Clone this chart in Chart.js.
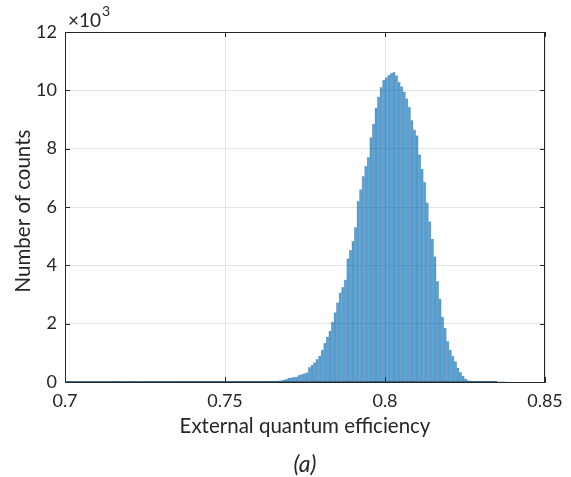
<!DOCTYPE html>
<html>
<head>
<meta charset="utf-8">
<script src="https://cdn.jsdelivr.net/npm/chart.js@4/dist/chart.umd.min.js"></script>
<style>
  html, body { margin: 0; padding: 0; background: #fff; }
  #histo { display: block; }
</style>
</head>
<body>
<canvas id="histo" width="571" height="477"></canvas>
<script>
// histogram bins (EQE)
const binStart = 0.7;
const binWidth = 0.0008;
const counts = [
  0,0,0,0,0,0,0,0,0,0, 0,0,0,0,0,0,0,0,0,0,
  1,0,0,0,0,0,1,0,0,0, 0,0,1,0,0,0,1,0,0,1,
  0,1,0,0,1,0,1,0,1,1, 1,0,2,1,1,2,1,2,3,2,
  3,4,3,5,5,6,7,8,9,10, 12,14,15,17,19,21,23,25,
  28,30,35,35,35,40,45,75,95,135,
  150,160,180,230,260,290,320,500,580,670,
  780,890,1100,1330,1550,1750,2060,2380,2720,3060,
  3250,3500,4230,4520,4830,5300,6200,6600,7050,7400,
  7700,8380,8850,9400,9780,10100,10350,10440,10520,10580,
  10620,10510,10280,10130,9950,9720,9420,8970,8650,8450,
  7800,7300,6850,6150,5500,4900,4300,3450,2850,2230,
  1850,1400,1100,880,700,490,330,210,110,50,
  40,35,30,20,15,10,8,6,5,4,
  3,2,1,1,0,0,0,0,0,0,
  0,0
];
const xTicks = [0.7, 0.75, 0.8, 0.85];
const yTicks = [0, 2000, 4000, 6000, 8000, 10000, 12000];

const binCenters = counts.map((_, i) => binStart + (i + 0.5) * binWidth);

const corEixo = '#262626';
const corGrade = '#e3e3e3';
const fonte = 'Lato, "Open Sans", sans-serif';

// caixa, ticks internos e textos extras
const extras = {
  id: 'extras',
  afterDraw(chart) {
    const { ctx, chartArea: a, scales } = chart;
    ctx.save();
    ctx.strokeStyle = corEixo;
    ctx.lineWidth = 1;
    ctx.beginPath();
    ctx.moveTo(a.left, a.top + 0.5); ctx.lineTo(a.right, a.top + 0.5);
    ctx.moveTo(a.right - 0.5, a.top); ctx.lineTo(a.right - 0.5, a.bottom);
    xTicks.forEach(v => {
      const px = Math.round(scales.x.getPixelForValue(v)) + 0.5;
      ctx.moveTo(px, a.bottom); ctx.lineTo(px, a.bottom - 5);
      ctx.moveTo(px, a.top); ctx.lineTo(px, a.top + 5);
    });
    yTicks.forEach(v => {
      const py = Math.round(scales.y.getPixelForValue(v)) + 0.5;
      ctx.moveTo(a.left, py); ctx.lineTo(a.left + 5, py);
      ctx.moveTo(a.right, py); ctx.lineTo(a.right - 5, py);
    });
    ctx.stroke();

    // cauda quase nula ao longo da base
    ctx.strokeStyle = 'rgba(20, 70, 110, 0.8)';
    ctx.beginPath();
    ctx.moveTo(a.left, a.bottom - 0.5);
    ctx.lineTo(scales.x.getPixelForValue(0.835), a.bottom - 0.5);
    ctx.stroke();

    ctx.fillStyle = corEixo;
    ctx.textAlign = 'center';
    ctx.textBaseline = 'middle';
    ctx.font = '20.5px ' + fonte;
    ctx.fillText('External quantum efficiency', (a.left + a.right) / 2, 426);
    ctx.font = 'italic 23px ' + fonte;
    ctx.fillText('(a)', (a.left + a.right) / 2, 465);

    ctx.save();
    ctx.translate(23, (a.top + a.bottom) / 2 + 4);
    ctx.rotate(-Math.PI / 2);
    ctx.font = '20.5px ' + fonte;
    ctx.fillText('Number of counts', 0, 0);
    ctx.restore();

    ctx.textAlign = 'left';
    ctx.textBaseline = 'alphabetic';
    ctx.font = '19px ' + fonte;
    ctx.fillText('\u00d710', 68, 27);
    const w = ctx.measureText('\u00d710').width;
    ctx.font = '14px ' + fonte;
    ctx.fillText('3', 68 + w + 1, 16);
    ctx.restore();
  }
};

new Chart(document.getElementById('histo'), {
  type: 'bar',
  data: {
    datasets: [{
      data: binCenters.map((x, i) => ({ x: x, y: counts[i] })),
      backgroundColor: 'rgba(0, 114, 189, 0.6)',
      borderColor: 'rgba(0, 80, 150, 0.35)',
      borderWidth: 0.6,
      barPercentage: 1,
      categoryPercentage: 1
    }]
  },
  options: {
    responsive: false,
    animation: false,
    events: [],
    layout: { padding: { top: 32, right: 26, left: 0, bottom: 0 } },
    plugins: {
      legend: { display: false },
      tooltip: { enabled: false }
    },
    scales: {
      x: {
        type: 'linear',
        min: 0.7,
        max: 0.85,
        offset: false,
        afterFit(s) { s.height = 95; },
        afterBuildTicks(s) { s.ticks = xTicks.map(v => ({ value: v })); },
        ticks: {
          color: corEixo,
          padding: 8,
          maxRotation: 0,
          autoSkip: false,
          font: { family: fonte, size: 18 },
          callback: v => String(Number(v.toFixed(2)))
        },
        grid: { color: corGrade, offset: false, drawTicks: false },
        border: { color: corEixo, width: 1 }
      },
      y: {
        min: 0,
        max: 12000,
        afterFit(s) { s.width = 65; },
        afterBuildTicks(s) { s.ticks = yTicks.map(v => ({ value: v })); },
        ticks: {
          color: corEixo,
          padding: 8,
          font: { family: fonte, size: 18 },
          callback: v => String(v / 1000)
        },
        grid: { color: corGrade, drawTicks: false },
        border: { color: corEixo, width: 1 }
      }
    }
  },
  plugins: [extras]
});
</script>
</body>
</html>
